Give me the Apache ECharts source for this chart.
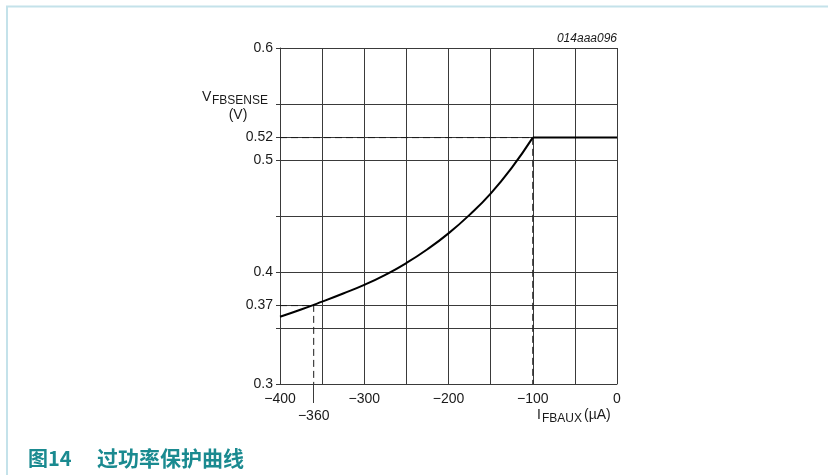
<!DOCTYPE html>
<html>
<head>
<meta charset="utf-8">
<script src="https://cdn.jsdelivr.net/npm/echarts@6/dist/echarts.min.js"></script>
<style>
html,body{margin:0;padding:0;background:#fff;}
#c{width:828px;height:475px;}
</style>
</head>
<body>
<div id="c"></div>
<script>
// ---- data ----
const curveX = [-400, -375, -350, -325, -300, -275, -250, -225, -200, -175, -150, -125, -100];
const curveY = [0.360, 0.3665, 0.3735, 0.3808, 0.3885, 0.3975, 0.408, 0.4203, 0.4345, 0.451, 0.470, 0.493, 0.520];
const flatX = [-100, 0];
const flatY = [0.520, 0.520];
const guide1X = [-400, -100, -100];
const guide1Y = [0.52, 0.52, 0.3];
const guide2X = [-400, -360, -360];
const guide2Y = [0.37, 0.37, 0.3];
const xTickLabels = [-400, -300, -200, -100, 0];
const xExtraLabels = [-360];
const yTickLabels = [0.3, 0.37, 0.4, 0.5, 0.52, 0.6];
const yTicks = [0.3, 0.35, 0.37, 0.4, 0.45, 0.5, 0.52, 0.55, 0.6];

const zip = (a, b) => a.map((v, i) => [v, b[i]]);
const font = 'Liberation Sans, Arial, sans-serif';
const ink = '#1a1a1a';
const gridC = '#3a3a3a';

const chart = echarts.init(document.getElementById('c'), null, {renderer: 'canvas'});
chart.setOption({
  animation: false,
  backgroundColor: '#fff',
  grid: {left: 280, right: 211, top: 48, bottom: 91, containLabel: false},
  xAxis: [{
    type: 'value', min: -400, max: 0, interval: 50, position: 'bottom',
    axisLine: {show: true, onZero: false, lineStyle: {color: gridC, width: 1}},
    axisTick: {show: false},
    splitLine: {show: true, lineStyle: {color: gridC, width: 1}},
    axisLabel: {customValues: xTickLabels, color: ink, fontFamily: font, fontSize: 14, margin: 8,
      formatter: v => v < 0 ? '\u2212' + Math.abs(v) : String(v)}
  }, {
    type: 'value', min: -400, max: 0, position: 'bottom', offset: 0,
    axisLine: {show: false},
    splitLine: {show: false},
    axisTick: {show: true, customValues: xExtraLabels, length: 19, lineStyle: {color: gridC, width: 1}},
    axisLabel: {customValues: xExtraLabels, color: ink, fontFamily: font, fontSize: 14, margin: 25,
      formatter: v => '\u2212' + Math.abs(v)}
  }],
  yAxis: {
    type: 'value', min: 0.3, max: 0.6, interval: 0.05,
    axisLine: {show: true, onZero: false, lineStyle: {color: gridC, width: 1}},
    axisTick: {show: true, customValues: yTicks, length: 4, lineStyle: {color: gridC}},
    splitLine: {show: true, lineStyle: {color: gridC, width: 1}},
    axisLabel: {customValues: yTickLabels, color: ink, fontFamily: font, fontSize: 14, margin: 7,
      formatter: v => String(+v.toFixed(2))}
  },
  series: [
    {type: 'line', data: zip(guide1X, guide1Y), symbol: 'none', z: 3,
      lineStyle: {color: ink, width: 1, type: [7, 4]}},
    {type: 'line', data: zip(guide2X, guide2Y), symbol: 'none', z: 3,
      lineStyle: {color: ink, width: 1, type: [7, 4]}},
    {type: 'line', data: zip(curveX, curveY), symbol: 'none', smooth: 0.5, z: 5,
      lineStyle: {color: '#000', width: 2}},
    {type: 'line', data: zip(flatX, flatY), symbol: 'none', z: 5,
      lineStyle: {color: '#000', width: 2}}
  ],
  graphic: [
    {type: 'line', shape: {x1: 6, y1: 6.5, x2: 828, y2: 6.5}, style: {stroke: '#c4e2ea', lineWidth: 2}, silent: true},
    {type: 'line', shape: {x1: 7, y1: 6, x2: 7, y2: 475}, style: {stroke: '#c4e2ea', lineWidth: 2}, silent: true},
    {type: 'text', x: 617, y: 39, style: {text: '014aaa096', fill: ink, font: 'italic 12px ' + font, textAlign: 'right', textVerticalAlign: 'middle'}},
    {type: 'text', x: 202, y: 97, style: {text: 'V', fill: ink, font: '14px ' + font, textVerticalAlign: 'middle'}},
    {type: 'text', x: 212, y: 101, style: {text: 'FBSENSE', fill: ink, font: '12px ' + font, textVerticalAlign: 'middle'}},
    {type: 'text', x: 238, y: 115, style: {text: '(V)', fill: ink, font: '14px ' + font, textAlign: 'center', textVerticalAlign: 'middle'}},
    {type: 'text', x: 537, y: 415, style: {text: 'I', fill: ink, font: '14px ' + font, textVerticalAlign: 'middle'}},
    {type: 'text', x: 542, y: 419, style: {text: 'FBAUX', fill: ink, font: '12px ' + font, textVerticalAlign: 'middle'}},
    {type: 'text', x: 584, y: 415, style: {text: '(\u00b5A)', fill: ink, font: '14px ' + font, textVerticalAlign: 'middle'}},
    {type: 'text', x: 28, y: 458, style: {text: '图14', fill: '#1a8a90', font: 'bold 20px "Noto Sans CJK SC", sans-serif', textVerticalAlign: 'middle'}},
    {type: 'text', x: 97, y: 458, style: {text: '过功率保护曲线', fill: '#1a8a90', font: 'bold 21px "Noto Sans CJK SC", sans-serif', textVerticalAlign: 'middle'}}
  ]
});
</script>
</body>
</html>
